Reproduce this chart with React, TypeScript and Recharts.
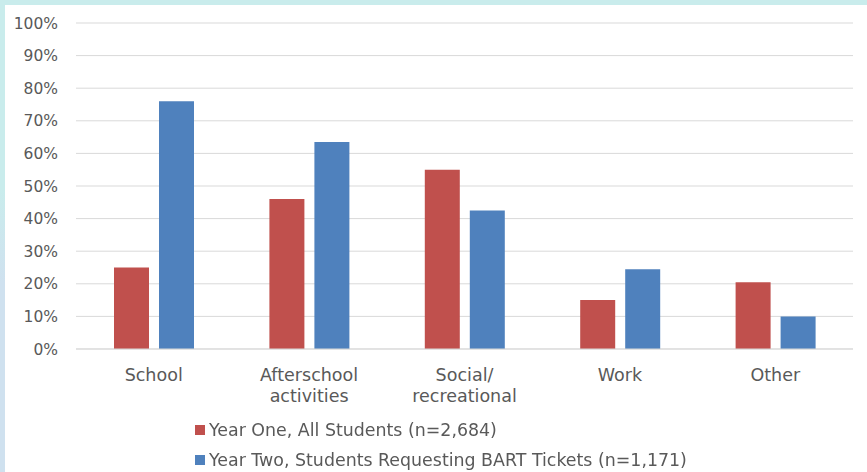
import { BarChart, Bar, XAxis, YAxis, CartesianGrid, Legend } from "recharts";

const categories = ["School", "Afterschool\nactivities", "Social/\nrecreational", "Work", "Other"];
const yearOne = [25, 46, 55, 15, 20.5];
const yearTwo = [76, 63.5, 42.5, 24.5, 10];
const yTicks = [0, 10, 20, 30, 40, 50, 60, 70, 80, 90, 100];

const seriesNames = [
  "Year One, All Students (n=2,684)",
  "Year Two, Students Requesting BART Tickets (n=1,171)",
];
const RED = "#c0504d";
const BLUE = "#4f81bd";
const TEXT = "#595959";
const FONT = "DejaVu Sans";

const data = categories.map((c, i) => ({ name: c, one: yearOne[i], two: yearTwo[i] }));

const CategoryTick = ({ x, y, payload }: any) => {
  const lines = String(payload.value).split("\n");
  return (
    <text x={x} y={y} textAnchor="middle" fill={TEXT} fontSize={17.5} fontFamily={FONT}>
      {lines.map((l, i) => (
        <tspan key={i} x={x} y={y + 24 + i * 21}>
          {l}
        </tspan>
      ))}
    </text>
  );
};

const LegendBox = () => (
  <div
    style={{
      height: 62,
      boxSizing: "border-box",
      paddingTop: 5,
      marginLeft: 195,
      fontFamily: FONT,
      fontSize: 17.4,
      color: TEXT,
    }}
  >
    {seriesNames.map((n, i) => (
      <div key={n} style={{ display: "flex", alignItems: "center", height: 30 }}>
        <span style={{ width: 10, height: 10, background: i === 0 ? RED : BLUE, marginRight: 4 }} />
        <span>{n}</span>
      </div>
    ))}
  </div>
);

export default function App() {
  return (
    <div style={{ position: "fixed", top: 0, left: 0, width: 867, height: 472, background: "#fff" }}>
      <BarChart
        width={867}
        height={472}
        data={data}
        margin={{ top: 23, right: 14, bottom: 0, left: 0 }}
        barCategoryGap={38}
        barGap={10}
      >
        <CartesianGrid vertical={false} stroke="#d9d9d9" />
        <YAxis
          domain={[0, 100]}
          ticks={yTicks}
          tickFormatter={(v) => `${v}%`}
          axisLine={false}
          tickLine={false}
          width={76}
          tickMargin={12}
          tick={{ fill: TEXT, fontSize: 15.5, fontFamily: FONT }}
        />
        <XAxis
          dataKey="name"
          tick={<CategoryTick />}
          tickLine={false}
          axisLine={{ stroke: "#d9d9d9" }}
          height={61}
          interval={0}
        />
        <Legend
          verticalAlign="bottom"
          align="center"
          layout="vertical"
          wrapperStyle={{ left: 0, width: 867 }}
          content={<LegendBox />}
        />
        <Bar dataKey="one" name={seriesNames[0]} fill={RED} isAnimationActive={false} />
        <Bar dataKey="two" name={seriesNames[1]} fill={BLUE} isAnimationActive={false} />
      </BarChart>
      <div style={{ position: "absolute", top: 0, left: 0, width: 867, height: 5, background: "#c9ecec" }} />
      <div
        style={{
          position: "absolute",
          top: 0,
          left: 0,
          width: 5,
          height: 472,
          background: "linear-gradient(to bottom, #c9ecec 0%, #c9ecec 40%, #cfe1ef 60%, #cfe1ef 100%)",
        }}
      />
    </div>
  );
}
